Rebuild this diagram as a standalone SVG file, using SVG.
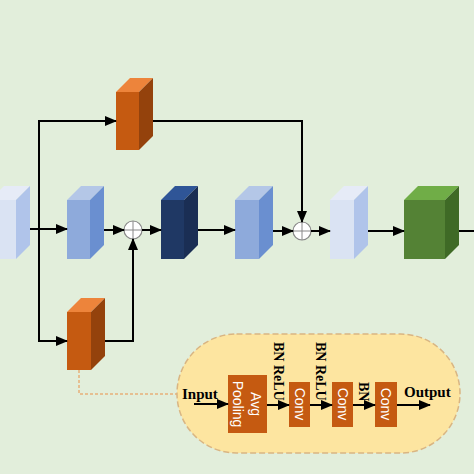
<svg xmlns="http://www.w3.org/2000/svg" width="474" height="474" viewBox="0 0 474 474">
<defs>
<marker id="ah" markerUnits="userSpaceOnUse" markerWidth="12" markerHeight="10" refX="11" refY="5" orient="auto">
<path d="M0,0 L12,5 L0,10 z" fill="#000"/>
</marker>
<style>
.ln{stroke:#000;stroke-width:2;fill:none}
.lt .f{fill:#8eaadb}.lt .s{fill:#6a8fd0}.lt .t{fill:#b4c7e7}
.vl .f{fill:#dae3f3}.vl .s{fill:#b0c4ea}.vl .t{fill:#e6ebf7}
.dk .f{fill:#1f3864}.dk .s{fill:#1a2e54}.dk .t{fill:#2f5597}
.or .f{fill:#c55a11}.or .s{fill:#94420c}.or .t{fill:#ed843b}
.gr .f{fill:#548235}.gr .s{fill:#3f6a26}.gr .t{fill:#70ad47}
.lbl{font-family:"Liberation Serif",serif;font-weight:bold;font-size:14px;fill:#000}
.io{font-size:15px}
.wt{font-family:"Liberation Sans",Arial,sans-serif;font-size:14px;fill:#fff}
.box{fill:#c55a11}
</style>
</defs>
<rect width="474" height="474" fill="#e2eedb"/>

<g id="block0" class="vl">
<rect class="f" x="-10" y="200" width="26" height="59"/>
<polygon class="t" points="-10,200 16,200 30,186 4,186"/>
<polygon class="s" points="16,200 30,186 30,245 16,259"/>
</g>
<g id="block1" class="lt">
<rect class="f" x="67" y="200" width="23" height="59"/>
<polygon class="t" points="67,200 90,200 104,186 81,186"/>
<polygon class="s" points="90,200 104,186 104,245 90,259"/>
</g>
<g id="block2" class="dk">
<rect class="f" x="161" y="200" width="23" height="59"/>
<polygon class="t" points="161,200 184,200 198,186 175,186"/>
<polygon class="s" points="184,200 198,186 198,245 184,259"/>
</g>
<g id="block3" class="lt">
<rect class="f" x="235" y="200" width="24" height="59"/>
<polygon class="t" points="235,200 259,200 273,186 249,186"/>
<polygon class="s" points="259,200 273,186 273,245 259,259"/>
</g>
<g id="block4" class="vl">
<rect class="f" x="330" y="200" width="24" height="59"/>
<polygon class="t" points="330,200 354,200 368,186 344,186"/>
<polygon class="s" points="354,200 368,186 368,245 354,259"/>
</g>
<g id="block5" class="gr">
<rect class="f" x="404" y="200" width="41" height="59"/>
<polygon class="t" points="404,200 445,200 459,186 418,186"/>
<polygon class="s" points="445,200 459,186 459,245 445,259"/>
</g>
<g id="orangeTop" class="or">
<rect class="f" x="116" y="92" width="23" height="58"/>
<polygon class="t" points="116,92 139,92 153,78 130,78"/>
<polygon class="s" points="139,92 153,78 153,136 139,150"/>
</g>
<g id="orangeBottom" class="or">
<rect class="f" x="67" y="312" width="24" height="58"/>
<polygon class="t" points="67,312 91,312 105,298 81,298"/>
<polygon class="s" points="91,312 105,298 105,356 91,370"/>
</g>

<g id="sum1">
<circle cx="133" cy="230" r="9" fill="#fff" stroke="#888" stroke-width="1.2"/>
<path d="M124,230 H142 M133,221 V239" stroke="#888" stroke-width="1"/>
</g>
<g id="sum2">
<circle cx="302" cy="231" r="9" fill="#fff" stroke="#888" stroke-width="1.2"/>
<path d="M293,231 H311 M302,222 V240" stroke="#888" stroke-width="1"/>
</g>

<g id="connectors">
<line class="ln" x1="30" y1="229" x2="67" y2="229" marker-end="url(#ah)"/>
<line class="ln" x1="104" y1="230" x2="124" y2="230" marker-end="url(#ah)"/>
<line class="ln" x1="142" y1="230" x2="161" y2="230" marker-end="url(#ah)"/>
<line class="ln" x1="198" y1="230" x2="235" y2="230" marker-end="url(#ah)"/>
<line class="ln" x1="273" y1="231" x2="293" y2="231" marker-end="url(#ah)"/>
<line class="ln" x1="311" y1="231" x2="330" y2="231" marker-end="url(#ah)"/>
<line class="ln" x1="368" y1="231" x2="404" y2="231" marker-end="url(#ah)"/>
<line class="ln" x1="459" y1="231" x2="474" y2="231"/>
<polyline class="ln" points="39,341 39,121 116,121" marker-end="url(#ah)"/>
<line class="ln" x1="38" y1="341" x2="67" y2="341" marker-end="url(#ah)"/>
<polyline class="ln" points="153,121 302,121 302,222" marker-end="url(#ah)"/>
<polyline class="ln" points="105,341 133,341 133,239" marker-end="url(#ah)"/>
<polyline points="79,370 79,394 177,394" fill="none" stroke="#e8b07a" stroke-width="1.5" stroke-dasharray="3,2"/>
</g>

<g id="module">
<rect x="177" y="334" width="283" height="119" rx="59.5" fill="#fde5a0" stroke="#d9b582" stroke-width="1.5" stroke-dasharray="6,3"/>
<text class="lbl io" x="182" y="399">Input</text>
<text class="lbl io" x="404" y="397">Output</text>
<g id="avgpool">
<rect class="box" x="228" y="375" width="39" height="58"/>
<text class="wt" text-anchor="middle" transform="translate(251,404) rotate(90)">Avg</text>
<text class="wt" text-anchor="middle" transform="translate(233,404) rotate(90)">Pooling</text>
</g>
<g id="conv1">
<rect class="box" x="289" y="382" width="21" height="45"/>
<text class="wt" text-anchor="middle" transform="translate(294.5,404) rotate(90)">Conv</text>
</g>
<g id="conv2">
<rect class="box" x="332" y="382" width="21" height="45"/>
<text class="wt" text-anchor="middle" transform="translate(337.5,404) rotate(90)">Conv</text>
</g>
<g id="conv3">
<rect class="box" x="375" y="382" width="22" height="45"/>
<text class="wt" text-anchor="middle" transform="translate(381,404) rotate(90)">Conv</text>
</g>
<text class="lbl" transform="translate(274,342) rotate(90)">BN ReLU</text>
<text class="lbl" transform="translate(316,342) rotate(90)">BN ReLU</text>
<text class="lbl" transform="translate(359,382) rotate(90)">BN</text>
<g id="module-connectors">
<line class="ln" x1="194" y1="404" x2="228" y2="404" marker-end="url(#ah)"/>
<line class="ln" x1="267" y1="405" x2="289" y2="405" marker-end="url(#ah)"/>
<line class="ln" x1="310" y1="405" x2="332" y2="405" marker-end="url(#ah)"/>
<line class="ln" x1="353" y1="405" x2="375" y2="405" marker-end="url(#ah)"/>
<line class="ln" x1="397" y1="405" x2="430" y2="405" marker-end="url(#ah)"/>
</g>
</g>
</svg>
